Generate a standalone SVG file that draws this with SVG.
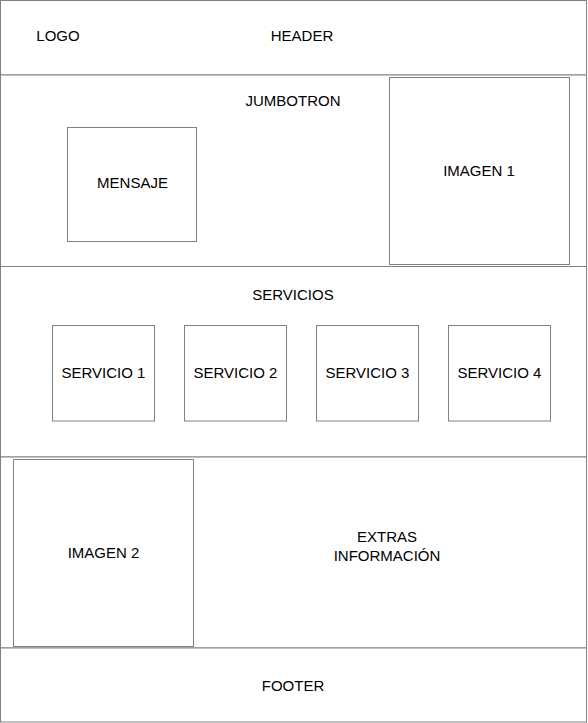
<svg xmlns="http://www.w3.org/2000/svg" width="588" height="723" viewBox="0 0 588 723">
<style>
rect{fill:#ffffff;stroke:#808080;stroke-width:1}
text{font-family:"Liberation Sans",Arial,Helvetica,sans-serif;font-size:15px;fill:#000000;text-anchor:middle}
</style>
<rect x="0" y="0" width="588" height="723" style="stroke:none"/>
<g id="header">
<rect x="0.5" y="0.5" width="586" height="74.5"/>
<text x="58" y="41">LOGO</text>
<text x="302" y="41">HEADER</text>
</g>
<g id="jumbotron">
<rect x="0.5" y="75" width="586" height="191.5"/>
<text x="293" y="106">JUMBOTRON</text>
</g>
<g id="mensaje">
<rect x="67.5" y="127.5" width="129" height="114"/>
<text x="132.5" y="188">MENSAJE</text>
</g>
<g id="imagen1">
<rect x="389.5" y="77.5" width="180" height="187"/>
<text x="479" y="175.5">IMAGEN 1</text>
</g>
<g id="servicios">
<rect x="0.5" y="266.5" width="586" height="190.5"/>
<text x="293" y="300">SERVICIOS</text>
</g>
<g id="servicio1">
<rect x="52.5" y="325.5" width="102" height="95.5"/>
<text x="103.5" y="377.5">SERVICIO 1</text>
</g>
<g id="servicio2">
<rect x="184.5" y="325.5" width="102" height="95.5"/>
<text x="235.5" y="377.5">SERVICIO 2</text>
</g>
<g id="servicio3">
<rect x="316.5" y="325.5" width="102" height="95.5"/>
<text x="367.5" y="377.5">SERVICIO 3</text>
</g>
<g id="servicio4">
<rect x="448.5" y="325.5" width="102" height="95.5"/>
<text x="499.5" y="377.5">SERVICIO 4</text>
</g>
<g id="extras">
<rect x="0.5" y="457" width="586" height="191"/>
<text x="387" y="542">EXTRAS</text>
<text x="387" y="560.5">INFORMACIÓN</text>
</g>
<g id="imagen2">
<rect x="13.5" y="459.5" width="180" height="187"/>
<text x="103.5" y="557.5">IMAGEN 2</text>
</g>
<g id="footer">
<rect x="0.5" y="648" width="586" height="74"/>
<text x="293" y="691">FOOTER</text>
</g>
<g id="connectors"></g>
</svg>
